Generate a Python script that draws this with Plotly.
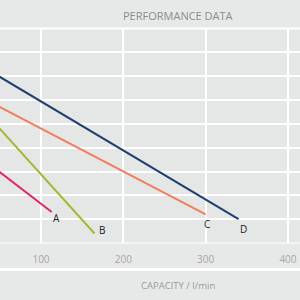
import plotly.graph_objects as go

# Capacity (l/min) and head values for each pump curve
names = ["A", "B", "C", "D"]
capacity = {
    "A": [0, 113],
    "B": [0, 165],
    "C": [0, 300],
    "D": [0, 340],
}
head = {
    "A": [43, 13],
    "B": [67, 4],
    "C": [66, 12],
    "D": [80, 10],
}
colors = {"A": "#e0256b", "B": "#a6b832", "C": "#f47c5e", "D": "#1f3f6e"}
label_offsets = {"A": (5, -6), "B": (7, 3), "C": (1, -10), "D": (5, -10)}

x_ticks = [100, 200, 300, 400]

fig = go.Figure()
for n in names:
    fig.add_trace(go.Scatter(
        x=capacity[n], y=head[n], mode="lines",
        line=dict(color=colors[n], width=2), showlegend=False,
        hoverinfo="skip"))
    dx, dy = label_offsets[n]
    fig.add_annotation(x=capacity[n][-1], y=head[n][-1], xref="x", yref="y",
                       text=n, showarrow=False, xshift=dx, yshift=dy,
                       font=dict(family="Open Sans", size=10, color="#1a1a1a"))

fig.add_annotation(x=0.594, y=0.95, xref="paper", yref="paper",
                   xanchor="center", yanchor="middle",
                   text="PERFORMANCE DATA", showarrow=False,
                   font=dict(family="Open Sans", size=11, color="#8c8c8c"))
fig.add_annotation(x=0.593, y=0.05, xref="paper", yref="paper",
                   xanchor="center", yanchor="middle",
                   text="CAPACITY / l/min", showarrow=False,
                   font=dict(family="Open Sans", size=9.5, color="#9a9a9a"))

for yy, w in [(0.905, 2), (0.19, 1), (0.1017, 3)]:
    fig.add_shape(type="line", xref="paper", yref="paper", x0=0, x1=1,
                  y0=yy, y1=yy, line=dict(color="white", width=w), layer="above")

fig.update_layout(
    width=300, height=300,
    margin=dict(l=0, r=0, t=0, b=0),
    paper_bgcolor="#e7e9e9", plot_bgcolor="#e5e7e7",
    xaxis=dict(range=[50.2, 414.6], tickvals=x_ticks,
               showgrid=True, gridcolor="white", gridwidth=2,
               zeroline=False, showline=False,
               ticks="outside", ticklen=7, tickcolor="rgba(0,0,0,0)",
               tickfont=dict(family="Open Sans", size=10, color="#a6a6a6")),
    yaxis=dict(range=[0, 90], dtick=10, domain=[0.19, 0.905],
               showgrid=True, gridcolor="white", gridwidth=2,
               zeroline=False, showline=False, showticklabels=False),
)
fig.update_xaxes(domain=[0, 1])

fig.write_html("out.html")
